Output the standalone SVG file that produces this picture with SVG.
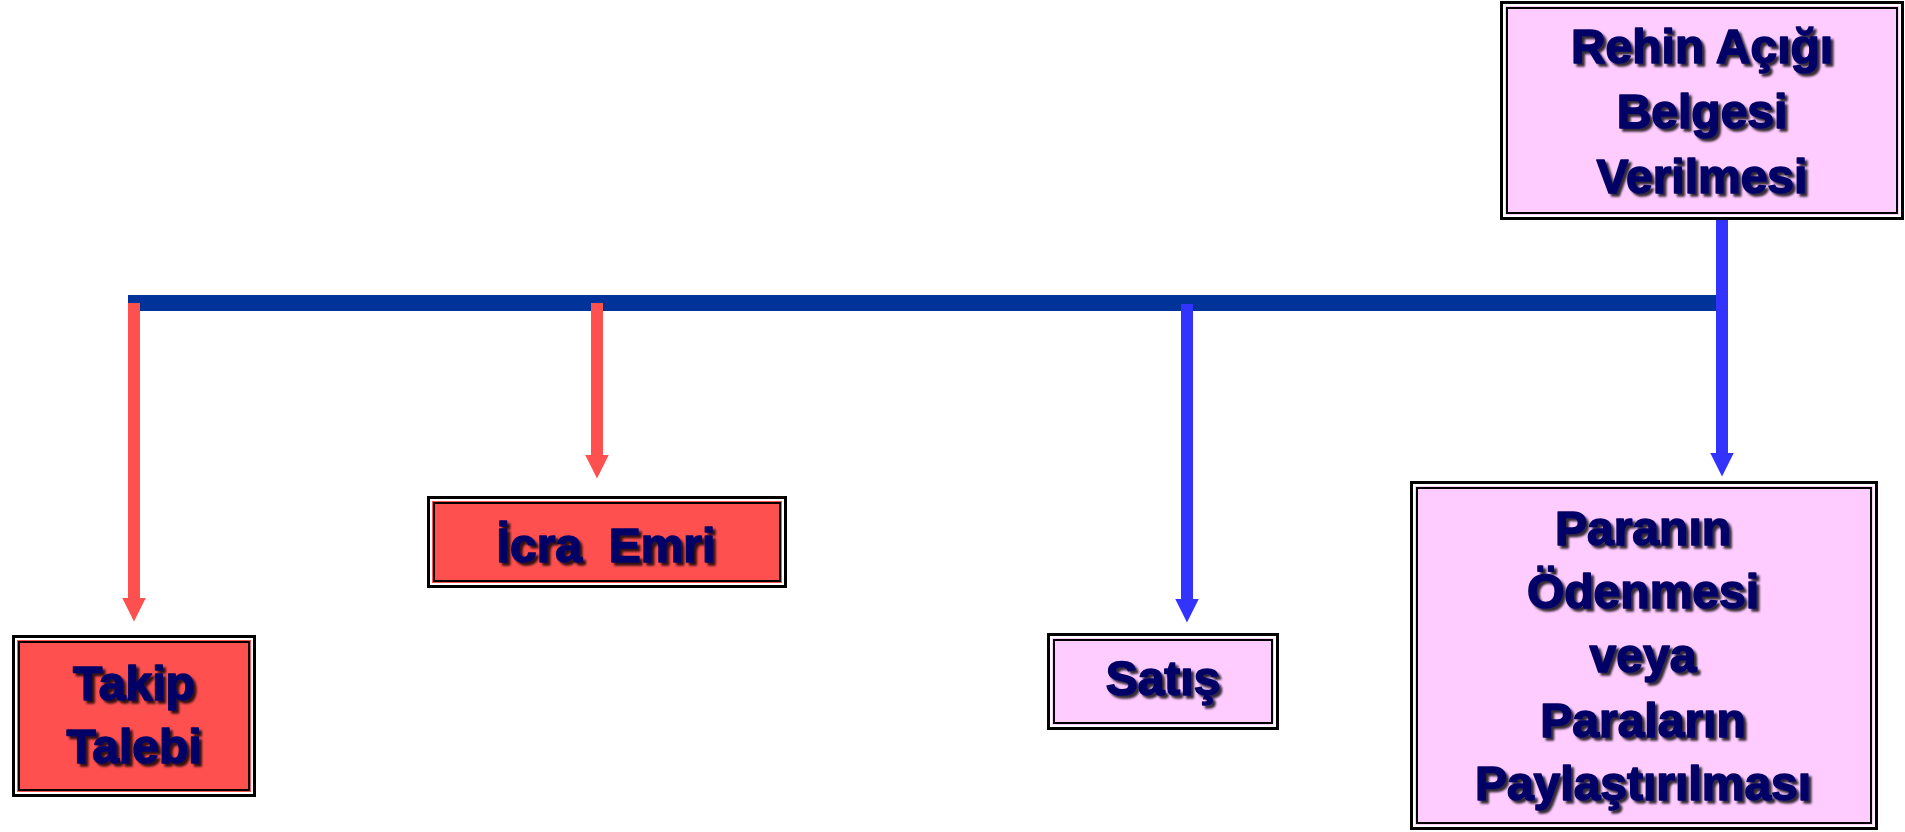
<svg xmlns="http://www.w3.org/2000/svg" width="1905" height="832" viewBox="0 0 1905 832">
  <defs>
    <filter id="textShadow" x="-10%" y="-20%" width="130%" height="150%">
      <feDropShadow dx="3" dy="3" stdDeviation="1" flood-color="#000000" flood-opacity="0.8"/>
    </filter>
    <marker id="headRed" markerUnits="userSpaceOnUse" markerWidth="24" markerHeight="24" viewBox="0 0 24 24" refX="0.5" refY="12" orient="auto">
      <path d="M0,0 L24,12 L0,24 z" fill="#FF5050"/>
    </marker>
    <marker id="headBlue" markerUnits="userSpaceOnUse" markerWidth="24" markerHeight="24" viewBox="0 0 24 24" refX="0.5" refY="12" orient="auto">
      <path d="M0,0 L24,12 L0,24 z" fill="#3333FF"/>
    </marker>
  </defs>
  <style>
    .frame { stroke: #000000; stroke-width: 3; }
    .gap { fill: none; stroke: #FFFFFF; stroke-width: 2; }
    .inner { fill: none; stroke: #000000; stroke-width: 2; }
    .red { fill: #FF5050; }
    .pink { fill: #FFCCFF; }
    .label { font-family: "Liberation Sans", Arial, sans-serif; font-weight: bold; font-size: 48px; fill: #000066; stroke: #000066; stroke-width: 1.6; stroke-linejoin: round; text-anchor: middle; filter: url(#textShadow); }
    .spine { stroke: #003399; stroke-width: 16; fill: none; }
    .redLine { stroke: #FF5050; stroke-width: 12; fill: none; marker-end: url(#headRed); }
    .blueLine { stroke: #3333FF; stroke-width: 12; fill: none; marker-end: url(#headBlue); }
  </style>

  <rect width="1905" height="832" fill="#FFFFFF"/>

  <!-- connectors: timeline spine and drop arrows -->
  <g id="connectors">
    <line class="spine" x1="128" y1="303" x2="1717" y2="303"/>
    <line class="redLine" x1="134" y1="303" x2="134" y2="598"/>
    <line class="redLine" x1="597" y1="303" x2="597" y2="455"/>
    <line class="blueLine" x1="1187" y1="304" x2="1187" y2="599"/>
    <line class="blueLine" x1="1722" y1="218" x2="1722" y2="453"/>
  </g>

  <!-- Takip Talebi -->
  <g id="takip-talebi">
    <rect class="frame red" x="13.5" y="636.5" width="241" height="159"/>
    <rect class="gap" x="16" y="639" width="236" height="154"/>
    <rect class="inner" x="19" y="642" width="230" height="148"/>
    <text class="label" x="134" y="700">Takip</text>
    <text class="label" x="134" y="763">Talebi</text>
  </g>

  <!-- İcra Emri -->
  <g id="icra-emri">
    <rect class="frame red" x="428.5" y="497.5" width="357" height="89"/>
    <rect class="gap" x="431" y="500" width="352" height="84"/>
    <rect class="inner" x="434" y="503" width="346" height="78"/>
    <text class="label" x="606" y="562" xml:space="preserve">İcra  Emri</text>
  </g>

  <!-- Satış -->
  <g id="satis">
    <rect class="frame pink" x="1048.5" y="634.5" width="229" height="94"/>
    <rect class="gap" x="1051" y="637" width="224" height="89"/>
    <rect class="inner" x="1054" y="640" width="218" height="83"/>
    <text class="label" x="1163" y="695">Satış</text>
  </g>

  <!-- Rehin Açığı Belgesi Verilmesi -->
  <g id="rehin-acigi">
    <rect class="frame pink" x="1501.5" y="2.5" width="401" height="216"/>
    <rect class="gap" x="1504" y="5" width="396" height="211"/>
    <rect class="inner" x="1507" y="8" width="390" height="205"/>
    <text class="label" x="1702" y="63">Rehin Açığı</text>
    <text class="label" x="1702" y="128">Belgesi</text>
    <text class="label" x="1702" y="193">Verilmesi</text>
  </g>

  <!-- Paranın Ödenmesi veya Paraların Paylaştırılması -->
  <g id="paylastirma">
    <rect class="frame pink" x="1411.5" y="482.5" width="465" height="346"/>
    <rect class="gap" x="1414" y="485" width="460" height="341"/>
    <rect class="inner" x="1417" y="488" width="454" height="335"/>
    <text class="label" x="1643" y="545">Paranın</text>
    <text class="label" x="1643" y="608">Ödenmesi</text>
    <text class="label" x="1643" y="672">veya</text>
    <text class="label" x="1643" y="737">Paraların</text>
    <text class="label" x="1643" y="800">Paylaştırılması</text>
  </g>
</svg>
